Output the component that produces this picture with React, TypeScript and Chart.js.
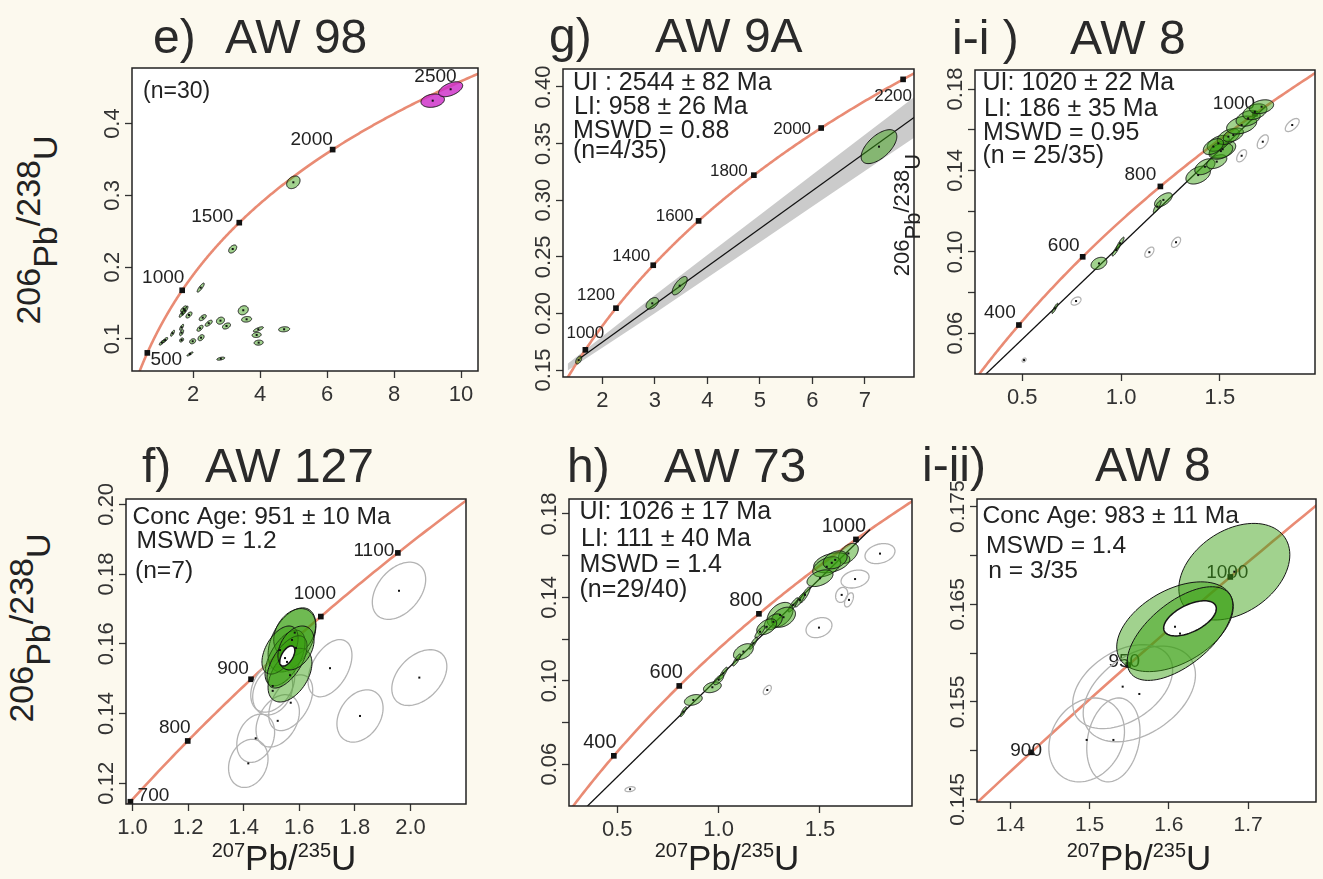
import React, { useEffect, useRef } from "react";
import { Chart, registerables } from "chart.js";

Chart.register(...registerables);

const FONT = '"Liberation Sans", Arial, Helvetica, sans-serif';
const BG = "#fcf9ee";
const SALMON = "#e98b74";
const INK = "#222";

// U-Pb decay constants (Jaffey et al. 1971) define the concordia curve
const L238 = 1.55125e-10;
const L235 = 9.8485e-10;
function concordia(tMa: number) {
  return { x: Math.expm1(L235 * tMa * 1e6), y: Math.expm1(L238 * tMa * 1e6) };
}
const CURVE_AGES = Array.from({ length: 301 }, (_, i) => i * 10);

// ---------------- e) AW 98 ----------------
const eAges = [500, 1000, 1500, 2000, 2500];
const eXTicks = [2, 4, 6, 8, 10];
const eXLabels = ["2", "4", "6", "8", "10"];
const eYTicks = [0.1, 0.2, 0.3, 0.4];
const eYLabelVals = [0.1, 0.2, 0.3, 0.4];
const eYLabels = ["0.1", "0.2", "0.3", "0.4"];
const eEllX = [9.155, 9.69, 4.995, 3.185, 2.23, 1.68, 1.76, 1.88, 2.29, 2.47, 2.82, 3.0, 3.5, 3.6, 3.95, 3.9, 3.96, 4.72, 2.21, 2.24, 1.99, 1.66, 1.66, 1.66, 1.39, 1.17, 1.07, 1.91, 2.83, 1.72];
const eEllY = [0.4319, 0.4478, 0.3182, 0.2253, 0.1715, 0.1358, 0.1394, 0.1334, 0.1297, 0.1219, 0.1255, 0.1181, 0.14, 0.1274, 0.1135, 0.1056, 0.0949, 0.1135, 0.1149, 0.1018, 0.0968, 0.1163, 0.1088, 0.0986, 0.108, 0.0986, 0.0949, 0.0791, 0.0726, 0.142];
const eEllSX = [0.35, 0.36, 0.2, 0.12, 0.105, 0.09, 0.09, 0.09, 0.105, 0.105, 0.12, 0.12, 0.15, 0.15, 0.15, 0.135, 0.135, 0.165, 0.09, 0.09, 0.09, 0.06, 0.06, 0.06, 0.06, 0.075, 0.075, 0.09, 0.12, 0.09];
const eEllSY = [0.0093, 0.0104, 0.0088, 0.0056, 0.0063, 0.0056, 0.0063, 0.0042, 0.0042, 0.0042, 0.0049, 0.0042, 0.0063, 0.0039, 0.0035, 0.0035, 0.0035, 0.0035, 0.0042, 0.0042, 0.0035, 0.0042, 0.0042, 0.0028, 0.0042, 0.0035, 0.0035, 0.0028, 0.0021, 0.0042];
const eEllRho = [0.2, 0.5, 0.3, 0.45, 0.85, 0.85, 0.85, 0.6, 0.6, 0.65, 0.2, 0.4, 0.2, 0.15, 0.75, 0.15, 0.1, 0.15, 0.6, 0.4, 0.25, 0.75, 0.6, 0.4, 0.75, 0.75, 0.75, 0.85, 0.5, 0.75];
const eEllKind = ["m", "m", "g", "g", "g", "g", "g", "g", "g", "g", "g", "g", "g", "g", "g", "g", "g", "g", "g", "g", "g", "g", "g", "g", "g", "g", "g", "g", "g", "g"];
const eNotes = ["(n=30)"];

// ---------------- g) AW 9A ----------------
const gAges = [1000, 1200, 1400, 1600, 1800, 2000, 2200];
const gXTicks = [2, 3, 4, 5, 6, 7];
const gXLabels = ["2", "3", "4", "5", "6", "7"];
const gYTicks = [0.15, 0.2, 0.25, 0.3, 0.35, 0.4];
const gYLabelVals = [0.15, 0.2, 0.25, 0.3, 0.35, 0.4];
const gYLabels = ["0.15", "0.20", "0.25", "0.30", "0.35", "0.40"];
const gEllX = [7.27, 3.474, 2.952, 1.55];
const gEllY = [0.3473, 0.2245, 0.2089, 0.1588];
const gEllSX = [0.34, 0.143, 0.118, 0.057];
const gEllSY = [0.015, 0.0081, 0.0051, 0.0035];
const gEllRho = [0.6, 0.7, 0.45, 0.5];
const gEllKind = ["g", "g", "g", "g"];
const gIntercepts = [958, 2544];
const gBandX = [1.34, 2, 3, 4, 5, 6, 7, 8];
const gBandLo = [0.1496, 0.1696, 0.2001, 0.2315, 0.2629, 0.2944, 0.3258, 0.3572];
const gBandHi = [0.1556, 0.1796, 0.2161, 0.2515, 0.2869, 0.3224, 0.3578, 0.3932];
const gNotes = ["UI : 2544 \u00b1 82 Ma", "LI: 958 \u00b1 26 Ma", "MSWD = 0.88", "(n=4/35)"];

// ---------------- i-i) AW 8 ----------------
const iiAges = [400, 600, 800, 1000];
const iiXTicks = [0.5, 1.0, 1.5];
const iiXLabels = ["0.5", "1.0", "1.5"];
const iiYTicks = [0.06, 0.08, 0.1, 0.12, 0.14, 0.16, 0.18];
const iiYLabelVals = [0.06, 0.1, 0.14, 0.18];
const iiYLabels = ["0.06", "0.10", "0.14", "0.18"];
const iiEllX = [0.509, 0.772, 1.143, 1.278, 1.61, 1.717, 1.866, 0.665, 0.888, 0.975, 0.995, 1.214, 1.183, 1.39, 1.424, 1.484, 1.514, 1.505, 1.492, 1.543, 1.568, 1.61, 1.643, 1.677, 1.711, 1.467];
const iiEllY = [0.0468, 0.0758, 0.0998, 0.1047, 0.1472, 0.1541, 0.1623, 0.0722, 0.0943, 0.1009, 0.1042, 0.1255, 0.1222, 0.1377, 0.1418, 0.1443, 0.1504, 0.1495, 0.1533, 0.1566, 0.1574, 0.1623, 0.1656, 0.1688, 0.1713, 0.1517];
const iiEllSX = [0.01, 0.025, 0.023, 0.023, 0.025, 0.028, 0.035, 0.015, 0.04, 0.02, 0.02, 0.045, 0.02, 0.062, 0.051, 0.051, 0.066, 0.06, 0.056, 0.056, 0.051, 0.076, 0.061, 0.061, 0.061, 0.051];
const iiEllSY = [0.001, 0.002, 0.0025, 0.0025, 0.003, 0.0034, 0.0032, 0.0025, 0.003, 0.003, 0.003, 0.0035, 0.003, 0.0044, 0.0039, 0.0034, 0.0044, 0.004, 0.0039, 0.0039, 0.0034, 0.0044, 0.0039, 0.0039, 0.0034, 0.0039];
const iiEllRho = [0.4, 0.4, 0.5, 0.5, 0.5, 0.5, 0.6, 0.9, 0.3, 0.9, 0.9, 0.6, 0.85, 0.4, 0.45, 0.45, 0.35, 0.35, 0.45, 0.45, 0.45, 0.35, 0.35, 0.35, 0.3, 0.45];
const iiEllKind = ["o", "o", "o", "o", "o", "o", "o", "g", "g", "g", "g", "g", "g", "g", "g", "g", "g", "g", "g", "g", "g", "g", "g", "g", "g", "g"];
const iiIntercepts = [186, 1020];
const iiNotes = ["UI: 1020 \u00b1 22 Ma", "LI: 186 \u00b1 35 Ma", "MSWD = 0.95", "(n = 25/35)"];

// ---------------- f) AW 127 ----------------
const fAges = [700, 800, 900, 1000, 1100];
const fXTicks = [1.0, 1.2, 1.4, 1.6, 1.8, 2.0];
const fXLabels = ["1.0", "1.2", "1.4", "1.6", "1.8", "2.0"];
const fYTicks = [0.12, 0.14, 0.16, 0.18, 0.2];
const fYLabelVals = [0.12, 0.14, 0.16, 0.18, 0.2];
const fYLabels = ["0.12", "0.14", "0.16", "0.18", "0.20"];
const fEllX = [1.9586, 2.0317, 1.8183, 1.7104, 1.4165, 1.4432, 1.5223, 1.5691, 1.5043, 1.5043, 1.5737, 1.5835, 1.5486, 1.5665, 1.5306, 1.5558, 1.5881, 1.5568];
const fEllY = [0.1752, 0.1503, 0.1393, 0.153, 0.1257, 0.1329, 0.1379, 0.1431, 0.1479, 0.1465, 0.1611, 0.1632, 0.1559, 0.151, 0.1582, 0.1548, 0.1588, 0.1565];
const fEllSX = [0.096, 0.099, 0.083, 0.079, 0.071, 0.068, 0.078, 0.079, 0.079, 0.072, 0.086, 0.0755, 0.072, 0.079, 0.065, 0.072, 0.065, 0.027];
const fEllSY = [0.0082, 0.008, 0.0075, 0.0082, 0.0069, 0.0069, 0.0075, 0.008, 0.0075, 0.0069, 0.0092, 0.0069, 0.008, 0.0077, 0.0069, 0.0075, 0.0063, 0.0029];
const fEllRho = [0.4, 0.4, 0.3, 0.45, 0.2, 0.25, 0.35, 0.45, 0.35, 0.25, 0.45, 0.3, 0.55, 0.45, 0.5, 0.6, 0.35, 0.55];
const fEllKind = ["o", "o", "o", "o", "o", "o", "o", "o", "o", "o", "g", "g", "g", "g", "g", "g", "g", "w"];
const fNotes = ["Conc Age: 951 \u00b1 10 Ma", "MSWD = 1.2", "(n=7)"];

// ---------------- h) AW 73 ----------------
const hAges = [400, 600, 800, 1000];
const hXTicks = [0.5, 1.0, 1.5];
const hXLabels = ["0.5", "1.0", "1.5"];
const hYTicks = [0.06, 0.08, 0.1, 0.12, 0.14, 0.16, 0.18];
const hYLabelVals = [0.06, 0.1, 0.14, 0.18];
const hYLabels = ["0.06", "0.10", "0.14", "0.18"];
const hEllX = [0.563, 1.24, 1.495, 1.607, 1.643, 1.673, 1.796, 1.64, 1.558, 1.533, 1.575, 1.5, 1.426, 1.401, 1.368, 1.303, 1.32, 1.27, 1.237, 1.204, 1.171, 1.122, 1.089, 1.023, 0.969, 0.875, 0.826, 1.0];
const hEllY = [0.048, 0.0956, 0.1255, 0.1412, 0.1388, 0.1488, 0.161, 0.1611, 0.1566, 0.1547, 0.158, 0.1492, 0.1412, 0.1388, 0.1364, 0.1316, 0.1305, 0.1283, 0.1259, 0.1235, 0.118, 0.114, 0.11, 0.1036, 0.0969, 0.0908, 0.0852, 0.1005];
const hEllSX = [0.025, 0.02, 0.064, 0.03, 0.022, 0.069, 0.074, 0.049, 0.089, 0.069, 0.059, 0.064, 0.025, 0.025, 0.025, 0.064, 0.059, 0.044, 0.049, 0.025, 0.02, 0.049, 0.02, 0.02, 0.044, 0.044, 0.015, 0.025];
const hEllSY = [0.0012, 0.0022, 0.0048, 0.0036, 0.0034, 0.0043, 0.0048, 0.0048, 0.0048, 0.0048, 0.0043, 0.004, 0.0038, 0.0034, 0.0034, 0.006, 0.0048, 0.0038, 0.0038, 0.0029, 0.0029, 0.0038, 0.0029, 0.0029, 0.0026, 0.0026, 0.0024, 0.0024];
const hEllRho = [0.3, 0.5, 0.25, 0.2, 0.5, 0.25, 0.25, 0.45, 0.35, 0.45, 0.35, 0.45, 0.85, 0.85, 0.85, 0.4, 0.35, 0.45, 0.45, 0.85, 0.85, 0.45, 0.85, 0.85, 0.35, 0.35, 0.85, 0.7];
const hEllKind = ["o", "o", "o", "o", "o", "o", "o", "g", "g", "g", "g", "g", "g", "g", "g", "g", "g", "g", "g", "g", "g", "g", "g", "g", "g", "g", "g", "g"];
const hIntercepts = [111, 1026];
const hNotes = ["UI: 1026 \u00b1 17 Ma", "LI: 111 \u00b1 40 Ma", "MSWD = 1.4", "(n=29/40)"];

// ---------------- i-ii) AW 8 ----------------
const iiiAges = [900, 950, 1000];
const iiiXTicks = [1.4, 1.5, 1.6, 1.7];
const iiiXLabels = ["1.4", "1.5", "1.6", "1.7"];
const iiiYTicks = [0.145, 0.15, 0.155, 0.16, 0.165, 0.17, 0.175];
const iiiYLabelVals = [0.145, 0.155, 0.165, 0.175];
const iiiYLabels = ["0.145", "0.155", "0.165", "0.175"];
const iiiEllX = [1.5417, 1.5627, 1.4963, 1.53, 1.6825, 1.6077, 1.614, 1.6266];
const iiiEllY = [0.15656, 0.15581, 0.1511, 0.1511, 0.16834, 0.1627, 0.162, 0.16356];
const iiiEllSX = [0.063, 0.0708, 0.0477, 0.0336, 0.07, 0.0735, 0.0666, 0.0332];
const iiiEllSY = [0.0043, 0.0049, 0.0043, 0.0043, 0.00495, 0.0046, 0.0048, 0.0018];
const iiiEllRho = [0.4, 0.4, 0.2, 0.2, 0.35, 0.45, 0.6, 0.55];
const iiiEllKind = ["o", "o", "o", "o", "g", "g", "g", "w"];
const iiiNotes = ["Conc Age: 983 \u00b1 11 Ma", "MSWD = 1.4", "n = 3/35"];

// ---------------- layout (positions / styles) ----------------
type Layout = {
  box: number[]; xRange: number[]; yRange: number[];
  ageFont: number; ageOff: number[][];
  noteFont: number; notePos: number[][]; tickFont: number;
};
const LAY: Record<string, Layout> = {
  e: { box: [132, 68, 478, 371], xRange: [0.179, 10.507], yRange: [0.0554, 0.4774], ageFont: 19,
    ageOff: [[19, 7], [-19, -13], [-27, -6], [-21, -10], [-50, 6]], noteFont: 23, notePos: [[11, 30]], tickFont: 22 },
  g: { box: [563, 69, 914, 377], xRange: [1.2514, 7.937], yRange: [0.14382, 0.4159], ageFont: 17,
    ageOff: [[0, -17], [-20, -13], [-22, -9], [-24, -5], [-25, -4], [-29, 1], [-10, 17]], noteFont: 25,
    notePos: [[10, 21.4], [11, 44.7], [10, 68.7], [10, 89]], tickFont: 22 },
  ii: { box: [975, 70, 1315, 374], xRange: [0.2606, 1.9813], yRange: [0.03995, 0.18934], ageFont: 19,
    ageOff: [[-19, -12], [-19, -11], [-20, -12], [-21, -10]], noteFont: 25,
    notePos: [[7.5, 20.4], [9, 46.4], [8, 69.7], [7.5, 93]], tickFont: 22 },
  f: { box: [126, 499, 466, 804], xRange: [0.9766, 2.1996], yRange: [0.11405, 0.20152], ageFont: 19,
    ageOff: [[23, -6], [-13, -13], [-18, -10], [-6, -23], [-24, -2]], noteFont: 24.6,
    notePos: [[6.5, 25], [10.5, 49.3], [9, 79.3]], tickFont: 22 },
  h: { box: [569, 499, 912, 806], xRange: [0.2617, 1.9539], yRange: [0.03995, 0.18719], ageFont: 20,
    ageOff: [[-14, -13], [-13, -13], [-13, -13], [-12, -13]], noteFont: 25,
    notePos: [[10.5, 20.3], [12, 46.7], [10.5, 72.7], [10.5, 97.7]], tickFont: 22 },
  iii: { box: [977, 499, 1316, 802], xRange: [1.358, 1.7855], yRange: [0.14474, 0.17579], ageFont: 19,
    ageOff: [[-5, -2], [-4, -3], [-3, -4]], noteFont: 24.6,
    notePos: [[5.5, 23.7], [9, 53.7], [11.3, 79.3]], tickFont: 21 },
};

type Panel = {
  id: string; ages: number[]; xTicks: number[]; xLabels: string[]; yTicks: number[];
  yLabelVals: number[]; yLabels: string[]; ell: { x: number[]; y: number[]; sx: number[]; sy: number[]; rho: number[]; kind: string[] };
  intercepts: number[] | null; band: { x: number[]; lo: number[]; hi: number[] } | null; notes: string[]; lay: Layout;
};

const PANELS: Panel[] = [
  { id: "e", ages: eAges, xTicks: eXTicks, xLabels: eXLabels, yTicks: eYTicks, yLabelVals: eYLabelVals, yLabels: eYLabels,
    ell: { x: eEllX, y: eEllY, sx: eEllSX, sy: eEllSY, rho: eEllRho, kind: eEllKind }, intercepts: null, band: null, notes: eNotes, lay: LAY.e },
  { id: "g", ages: gAges, xTicks: gXTicks, xLabels: gXLabels, yTicks: gYTicks, yLabelVals: gYLabelVals, yLabels: gYLabels,
    ell: { x: gEllX, y: gEllY, sx: gEllSX, sy: gEllSY, rho: gEllRho, kind: gEllKind }, intercepts: gIntercepts,
    band: { x: gBandX, lo: gBandLo, hi: gBandHi }, notes: gNotes, lay: LAY.g },
  { id: "ii", ages: iiAges, xTicks: iiXTicks, xLabels: iiXLabels, yTicks: iiYTicks, yLabelVals: iiYLabelVals, yLabels: iiYLabels,
    ell: { x: iiEllX, y: iiEllY, sx: iiEllSX, sy: iiEllSY, rho: iiEllRho, kind: iiEllKind }, intercepts: iiIntercepts, band: null, notes: iiNotes, lay: LAY.ii },
  { id: "f", ages: fAges, xTicks: fXTicks, xLabels: fXLabels, yTicks: fYTicks, yLabelVals: fYLabelVals, yLabels: fYLabels,
    ell: { x: fEllX, y: fEllY, sx: fEllSX, sy: fEllSY, rho: fEllRho, kind: fEllKind }, intercepts: null, band: null, notes: fNotes, lay: LAY.f },
  { id: "h", ages: hAges, xTicks: hXTicks, xLabels: hXLabels, yTicks: hYTicks, yLabelVals: hYLabelVals, yLabels: hYLabels,
    ell: { x: hEllX, y: hEllY, sx: hEllSX, sy: hEllSY, rho: hEllRho, kind: hEllKind }, intercepts: hIntercepts, band: null, notes: hNotes, lay: LAY.h },
  { id: "iii", ages: iiiAges, xTicks: iiiXTicks, xLabels: iiiXLabels, yTicks: iiiYTicks, yLabelVals: iiiYLabelVals, yLabels: iiiYLabels,
    ell: { x: iiiEllX, y: iiiEllY, sx: iiiEllSX, sy: iiiEllSY, rho: iiiEllRho, kind: iiiEllKind }, intercepts: null, band: null, notes: iiiNotes, lay: LAY.iii },
];

const TITLES = [
  { t: "e)", x: 153, b: 54 }, { t: "AW 98", x: 225, b: 54 },
  { t: "g)", x: 549, b: 53 }, { t: "AW 9A", x: 655, b: 53 },
  { t: "i-i )", x: 952, b: 55 }, { t: "AW 8", x: 1070, b: 55 },
  { t: "f)", x: 142, b: 483 }, { t: "AW 127", x: 205, b: 483 },
  { t: "h)", x: 567, b: 483 }, { t: "AW 73", x: 664, b: 483 },
  { t: "i-ii)", x: 922, b: 482 }, { t: "AW 8", x: 1095, b: 482 },
];
const Y_TITLES = [
  { x: 40, y: 230, size: 34 },
  { x: 33, y: 628, size: 34 },
  { x: 910, y: 215, size: 22 },
];
const X_TITLES = [
  { x: 284, b: 870 },
  { x: 727, b: 870 },
  { x: 1139, b: 870 },
];

const FILL: Record<string, string> = {
  g: "rgba(55,160,15,0.47)",
  m: "rgba(205,45,200,0.82)",
  w: "#ffffff",
};

function makePlugin(p: Panel) {
  const L = p.lay;
  return {
    id: "concPanel_" + p.id,
    beforeDraw(chart: any) {
      const { ctx, chartArea: a } = chart;
      ctx.save();
      ctx.fillStyle = "#ffffff";
      ctx.fillRect(a.left, a.top, a.right - a.left, a.bottom - a.top);
      ctx.restore();
    },
    afterDatasetsDraw(chart: any) {
      const { ctx, chartArea: a } = chart;
      const xs = chart.scales.x, ys = chart.scales.y;
      ctx.save();
      // age labels on concordia
      ctx.font = `${L.ageFont}px ${FONT}`;
      ctx.fillStyle = INK;
      ctx.textAlign = "center";
      ctx.textBaseline = "middle";
      p.ages.forEach((t, i) => {
        const c = concordia(t);
        const off = L.ageOff[i] || [0, 0];
        ctx.fillText(String(t), xs.getPixelForValue(c.x) + off[0], ys.getPixelForValue(c.y) + off[1]);
      });
      // ellipses (clipped)
      ctx.save();
      ctx.beginPath();
      ctx.rect(a.left, a.top, a.right - a.left, a.bottom - a.top);
      ctx.clip();
      const E = p.ell;
      const order = ["o", "m", "g", "w"];
      order.forEach((k) => {
        for (let i = 0; i < E.x.length; i++) {
          if (E.kind[i] !== k) continue;
          const r = E.rho[i];
          const q = Math.sqrt(Math.max(0, 1 - r * r));
          ctx.beginPath();
          for (let j = 0; j <= 90; j++) {
            const th = (j / 90) * Math.PI * 2;
            const X = E.x[i] + E.sx[i] * Math.cos(th);
            const Y = E.y[i] + E.sy[i] * (r * Math.cos(th) + q * Math.sin(th));
            const px = xs.getPixelForValue(X), py = ys.getPixelForValue(Y);
            if (j === 0) ctx.moveTo(px, py); else ctx.lineTo(px, py);
          }
          ctx.closePath();
          if (k === "o") {
            ctx.strokeStyle = "#b3b3b3";
            ctx.lineWidth = 1.3;
            ctx.stroke();
          } else {
            ctx.fillStyle = FILL[k];
            ctx.fill();
            ctx.strokeStyle = "#151515";
            ctx.lineWidth = k === "w" ? 1.5 : 1;
            ctx.stroke();
          }
        }
      });
      ctx.fillStyle = "#111";
      for (let i = 0; i < E.x.length; i++) {
        if (E.kind[i] === "w") continue;
        const px = xs.getPixelForValue(E.x[i]), py = ys.getPixelForValue(E.y[i]);
        ctx.fillRect(px - 1, py - 1, 2, 2);
      }
      ctx.restore();
      // annotations
      ctx.font = `${L.noteFont}px ${FONT}`;
      ctx.fillStyle = INK;
      ctx.textAlign = "left";
      ctx.textBaseline = "alphabetic";
      p.notes.forEach((s, i) => {
        const pos = L.notePos[i];
        ctx.fillText(s, a.left + pos[0], a.top + pos[1]);
      });
      ctx.restore();
    },
    afterDraw(chart: any) {
      const { ctx, chartArea: a } = chart;
      const ys = chart.scales.y;
      ctx.save();
      ctx.strokeStyle = "#222";
      ctx.lineWidth = 1.5;
      ctx.strokeRect(a.left, a.top, a.right - a.left, a.bottom - a.top);
      ctx.font = `${L.tickFont}px ${FONT}`;
      ctx.fillStyle = "#333";
      ctx.textAlign = "center";
      ctx.textBaseline = "alphabetic";
      p.yLabelVals.forEach((v, i) => {
        const py = ys.getPixelForValue(v);
        ctx.save();
        ctx.translate(a.left - 13, py);
        ctx.rotate(-Math.PI / 2);
        ctx.fillText(p.yLabels[i], 0, 0);
        ctx.restore();
      });
      ctx.restore();
    },
  };
}

function ConcordiaPanel({ p }: { p: Panel }) {
  const ref = useRef<HTMLCanvasElement>(null);
  const [Lx, Ty, Rx, By] = p.lay.box;
  const W = Rx - Lx + 74;
  const H = By - Ty + 76;
  useEffect(() => {
    const canvas = ref.current;
    if (!canvas) return;
    const datasets: any[] = [];
    datasets.push({
      type: "line", data: CURVE_AGES.map(concordia), borderColor: SALMON, borderWidth: 2.6,
      pointRadius: 0, fill: false, order: 3, tension: 0.001, borderJoinStyle: "round",
    });
    datasets.push({
      type: "scatter", data: p.ages.map(concordia), pointStyle: "rect", pointRadius: 4,
      backgroundColor: "#111", borderColor: "#111", borderWidth: 0, order: 1,
    });
    if (p.band) {
      const b = p.band;
      datasets.push({
        type: "line", data: b.x.map((x, i) => ({ x, y: b.lo[i] })), borderColor: "rgba(0,0,0,0)",
        borderWidth: 0, pointRadius: 0, fill: false, order: 6,
      });
      datasets.push({
        type: "line", data: b.x.map((x, i) => ({ x, y: b.hi[i] })), borderColor: "rgba(0,0,0,0)",
        borderWidth: 0, pointRadius: 0, fill: "-1", backgroundColor: "rgba(185,185,185,0.75)", order: 5,
      });
    }
    if (p.intercepts) {
      datasets.push({
        type: "line", data: p.intercepts.map(concordia), borderColor: "#111", borderWidth: 1.3,
        pointRadius: 0, fill: false, order: 2,
      });
    }
    const axisCommon = (ticks: number[]) => ({
      type: "linear",
      afterBuildTicks: (s: any) => { s.ticks = ticks.map((v) => ({ value: v })); },
      grid: { display: true, drawOnChartArea: false, drawTicks: true, tickLength: 7, tickWidth: 1.3, tickColor: "#333", color: "#333" },
      border: { display: false },
    });
    const chart = new Chart(canvas, {
      type: "scatter",
      data: { datasets },
      options: {
        responsive: false,
        animation: false,
        devicePixelRatio: 1,
        events: [],
        layout: { padding: { left: 0, top: 30, right: 14, bottom: 0 } },
        plugins: { legend: { display: false }, tooltip: { enabled: false }, title: { display: false } },
        scales: {
          x: {
            ...axisCommon(p.xTicks),
            min: p.lay.xRange[0], max: p.lay.xRange[1],
            afterFit: (s: any) => { s.height = 46; },
            ticks: {
              callback: (_v: any, i: number) => p.xLabels[i],
              font: { family: FONT, size: p.lay.tickFont }, color: "#333", padding: 4,
              maxRotation: 0, minRotation: 0, autoSkip: false,
            },
          },
          y: {
            ...axisCommon(p.yTicks),
            min: p.lay.yRange[0], max: p.lay.yRange[1],
            afterFit: (s: any) => { s.width = 60; },
            ticks: { display: false },
          },
        },
      } as any,
      plugins: [makePlugin(p)],
    } as any);
    return () => chart.destroy();
  }, []);
  return (
    <canvas
      ref={ref}
      width={W}
      height={H}
      style={{ position: "absolute", left: Lx - 60, top: Ty - 30, width: W, height: H }}
    />
  );
}

function YTitle({ x, y, size }: { x: number; y: number; size: number }) {
  const sub = { position: "relative" as const, top: 0.48 * size };
  return (
    <div style={{ position: "absolute", left: x, top: y, width: 0, height: 0, transform: "rotate(-90deg)", transformOrigin: "0 0" }}>
      <div style={{ position: "absolute", left: 0, top: -0.847 * size, fontSize: size, lineHeight: 1, whiteSpace: "nowrap", transform: "translateX(-50%)", color: "#222" }}>
        206<span style={sub}>Pb</span>/238<span style={sub}>U</span>
      </div>
    </div>
  );
}

function XTitle({ x, b }: { x: number; b: number }) {
  const sup = { fontSize: 20, position: "relative" as const, top: -13 };
  return (
    <div style={{ position: "absolute", left: x, top: b - 0.847 * 35, fontSize: 35, lineHeight: 1, whiteSpace: "nowrap", transform: "translateX(-50%)", color: "#222" }}>
      <span style={sup}>207</span>Pb/<span style={sup}>235</span>U
    </div>
  );
}

export default function App() {
  return (
    <div style={{ position: "fixed", left: 0, top: 0, width: 1323, height: 879, background: BG, overflow: "hidden", fontFamily: FONT }}>
      {PANELS.map((p) => (
        <ConcordiaPanel key={p.id} p={p} />
      ))}
      {TITLES.map((t, i) => (
        <div key={"t" + i} style={{ position: "absolute", left: t.x, top: t.b - 0.847 * 48, fontSize: 48, lineHeight: 1, whiteSpace: "pre", color: "#2a2a2a" }}>
          {t.t}
        </div>
      ))}
      {Y_TITLES.map((t, i) => (
        <YTitle key={"y" + i} x={t.x} y={t.y} size={t.size} />
      ))}
      {X_TITLES.map((t, i) => (
        <XTitle key={"x" + i} x={t.x} b={t.b} />
      ))}
    </div>
  );
}
